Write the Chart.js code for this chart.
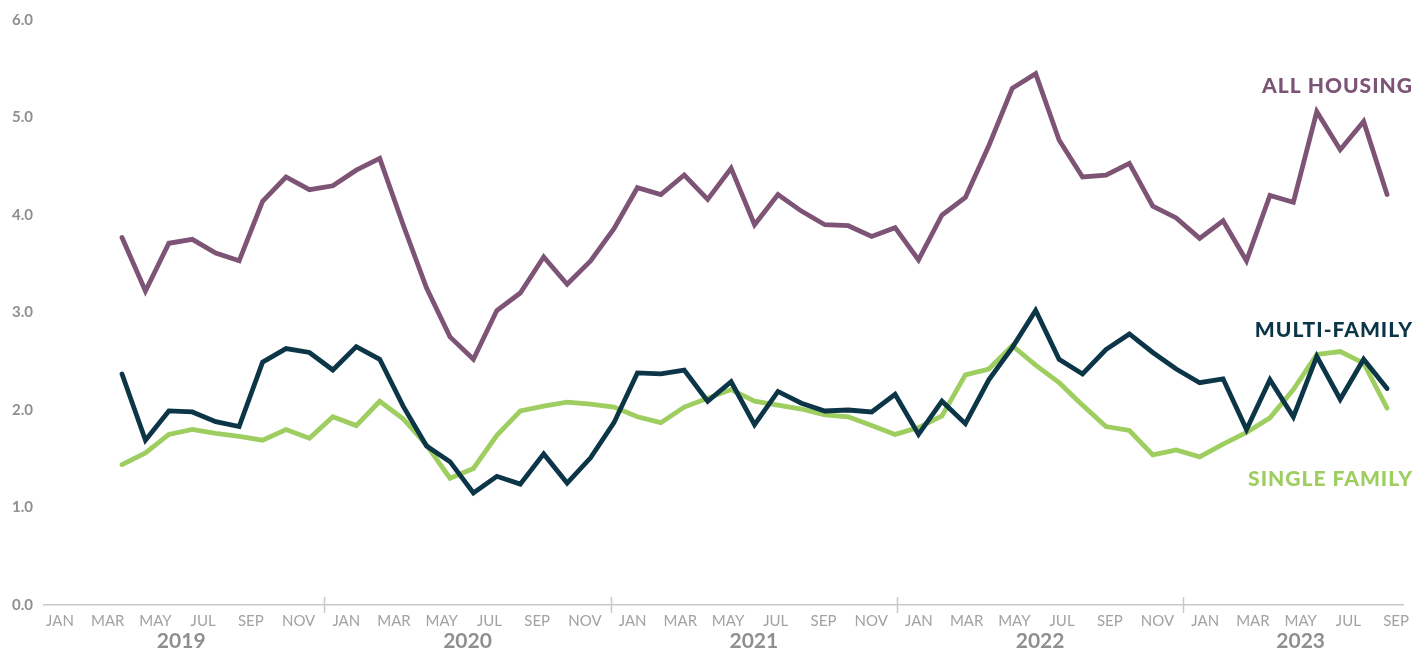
<!DOCTYPE html>
<html>
<head>
<meta charset="utf-8">
<script src="https://cdn.jsdelivr.net/npm/chart.js@4.4.1/dist/chart.umd.min.js"></script>
<style>
  html, body { margin: 0; padding: 0; background: #fff; }
  #wrap { width: 1427px; height: 652px; position: relative; }
</style>
</head>
<body>
<div id="wrap"><canvas id="chart"></canvas></div>
<script>
// Monthly series, Mar 2019 - Sep 2023 (month index 0 = Jan 2019)
const START_MONTH = 2;

const allHousing = [
  3.77, 3.22, 3.71, 3.75, 3.61, 3.53, 4.14, 4.39, 4.26, 4.30,
  4.46, 4.58, 3.90, 3.25, 2.75, 2.52, 3.02, 3.20, 3.57, 3.29, 3.53, 3.86,
  4.28, 4.21, 4.41, 4.16, 4.48, 3.90, 4.21, 4.04, 3.90, 3.89, 3.78, 3.87,
  3.54, 4.00, 4.18, 4.71, 5.30, 5.45, 4.77, 4.39, 4.41, 4.53, 4.09, 3.97,
  3.76, 3.94, 3.53, 4.20, 4.13, 5.06, 4.67, 4.96, 4.21
];

const multiFamily = [
  2.37, 1.69, 1.99, 1.98, 1.88, 1.83, 2.49, 2.63, 2.59, 2.41,
  2.65, 2.52, 2.04, 1.63, 1.47, 1.15, 1.32, 1.24, 1.55, 1.25, 1.51, 1.87,
  2.38, 2.37, 2.41, 2.09, 2.29, 1.85, 2.19, 2.07, 1.99, 2.00, 1.98, 2.16,
  1.75, 2.09, 1.86, 2.31, 2.64, 3.02, 2.52, 2.37, 2.62, 2.78, 2.59, 2.42,
  2.28, 2.32, 1.80, 2.31, 1.93, 2.55, 2.11, 2.52, 2.22
];

const singleFamily = [
  1.44, 1.56, 1.75, 1.80, 1.76, 1.73, 1.69, 1.80, 1.71, 1.93,
  1.84, 2.09, 1.91, 1.64, 1.30, 1.40, 1.74, 1.99, 2.04, 2.08, 2.06, 2.03,
  1.93, 1.87, 2.03, 2.12, 2.21, 2.09, 2.05, 2.01, 1.95, 1.93, 1.84, 1.75,
  1.82, 1.94, 2.36, 2.42, 2.66, 2.46, 2.28, 2.05, 1.83, 1.79, 1.54, 1.59,
  1.52, 1.65, 1.77, 1.92, 2.21, 2.57, 2.60, 2.48, 2.02
];

const monthNames = ['JAN', 'FEB', 'MAR', 'APR', 'MAY', 'JUN', 'JUL', 'AUG', 'SEP', 'OCT', 'NOV', 'DEC'];
const monthTicks = [0, 2, 4, 6, 8, 10, 12, 14, 16, 18, 20, 22, 24, 26, 28, 30, 32, 34, 36, 38, 40, 42, 44, 46, 48, 50, 52, 54, 56];
const yearLabels = ['2019', '2020', '2021', '2022', '2023'];
const yTicks = [0, 1, 2, 3, 4, 5, 6];

// series names drawn at the right end of the lines
const seriesNames = ['ALL HOUSING', 'MULTI-FAMILY', 'SINGLE FAMILY'];

const COLORS = {
  all: '#7d5475',
  multi: '#0c3648',
  single: '#9ecd60',
  axis: '#c9c9c9',
  month: '#a2a2a2',
  tick: '#8f8f8f'
};

// year band centres / boundaries on the label scale (month units)
const yearCentres = [5.08, 17.08, 29.08, 41.08, 52.0];
const yearBounds = [11.08, 23.08, 35.08, 47.08];

const toPoints = arr => arr.map((v, i) => ({ x: START_MONTH + i, y: v }));

// small vertical ticks across the baseline between years
const yearSeparators = {
  id: 'yearSeparators',
  afterDraw(chart) {
    const sc = chart.scales.xm;
    const bottom = chart.chartArea.bottom;
    const ctx = chart.ctx;
    ctx.save();
    ctx.strokeStyle = COLORS.axis;
    ctx.lineWidth = 1.5;
    yearBounds.forEach(b => {
      const px = Math.round(sc.getPixelForValue(b)) + 0.5;
      ctx.beginPath();
      ctx.moveTo(px, bottom - 8);
      ctx.lineTo(px, bottom + 8);
      ctx.stroke();
    });
    ctx.restore();
  }
};

// direct labels for each series
const seriesLabels = {
  id: 'seriesLabels',
  afterDatasetsDraw(chart) {
    const y = chart.scales.y;
    const ctx = chart.ctx;
    const spots = [
      { text: seriesNames[0], color: COLORS.all, v: 5.32 },
      { text: seriesNames[1], color: COLORS.multi, v: 2.82 },
      { text: seriesNames[2], color: COLORS.single, v: 1.29 }
    ];
    ctx.save();
    ctx.font = '900 21px Lato';
    ctx.textAlign = 'right';
    ctx.textBaseline = 'middle';
    if ('letterSpacing' in ctx) ctx.letterSpacing = '1px';
    spots.forEach(s => {
      ctx.fillStyle = s.color;
      ctx.fillText(s.text, chart.chartArea.right + 10, y.getPixelForValue(s.v));
    });
    ctx.restore();
  }
};

const lineStyle = {
  borderWidth: 4.8,
  pointRadius: 0,
  tension: 0,
  fill: false,
  borderCapStyle: 'round',
  xAxisID: 'x',
  yAxisID: 'y'
};

new Chart(document.getElementById('chart'), {
  type: 'line',
  data: {
    datasets: [
      Object.assign({ label: 'Multi-family', data: toPoints(multiFamily), borderColor: COLORS.multi }, lineStyle),
      Object.assign({ label: 'Single family', data: toPoints(singleFamily), borderColor: COLORS.single }, lineStyle),
      Object.assign({ label: 'All housing', data: toPoints(allHousing), borderColor: COLORS.all }, lineStyle)
    ]
  },
  options: {
    responsive: true,
    maintainAspectRatio: false,
    animation: false,
    layout: { padding: { top: 20, right: 24, bottom: 0, left: 0 } },
    plugins: {
      legend: { display: false },
      tooltip: { enabled: false },
      title: { display: false }
    },
    scales: {
      // data positions
      x: {
        type: 'linear',
        display: false,
        min: -1.33,
        max: 56.68
      },
      // month labels
      xm: {
        type: 'linear',
        position: 'bottom',
        weight: 0,
        min: -0.671,
        max: 56.29,
        afterBuildTicks: sc => { sc.ticks = monthTicks.map(v => ({ value: v })); },
        afterFit: sc => { sc.height = 24; },
        grid: { display: false, drawTicks: false },
        border: { display: true, color: COLORS.axis, width: 1.5 },
        ticks: {
          autoSkip: false,
          maxRotation: 0,
          padding: 7,
          color: COLORS.month,
          font: { family: 'Lato', size: 15, weight: '400' },
          callback: v => monthNames[v % 12]
        }
      },
      // year labels
      xy: {
        type: 'linear',
        position: 'bottom',
        weight: 1,
        min: -0.671,
        max: 56.29,
        afterBuildTicks: sc => { sc.ticks = yearCentres.map(v => ({ value: v })); },
        afterFit: sc => { sc.height = 23; },
        grid: { display: false, drawTicks: false },
        border: { display: false },
        ticks: {
          autoSkip: false,
          maxRotation: 0,
          padding: 2,
          color: COLORS.tick,
          font: { family: 'Lato', size: 21, weight: 'bold', lineHeight: 1 },
          callback: (v, i) => yearLabels[i]
        }
      },
      y: {
        min: 0,
        max: 6,
        afterBuildTicks: sc => { sc.ticks = yTicks.map(v => ({ value: v })); },
        afterFit: sc => { sc.width = 44; },
        grid: { display: false, drawTicks: false },
        border: { display: false },
        ticks: {
          padding: 11,
          color: COLORS.tick,
          font: { family: 'Lato', size: 15, weight: 'bold' },
          callback: v => v.toFixed(1)
        }
      }
    }
  },
  plugins: [yearSeparators, seriesLabels]
});
</script>
</body>
</html>
